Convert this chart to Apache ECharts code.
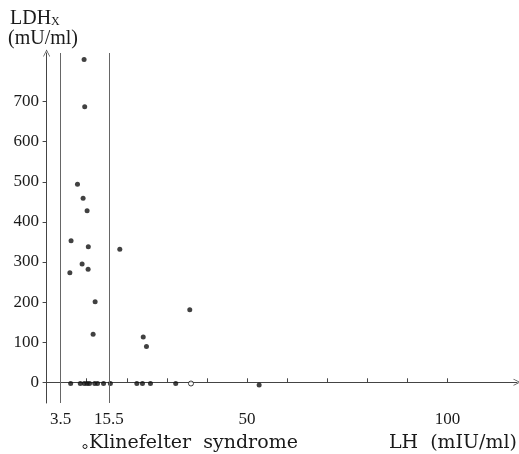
<!DOCTYPE html>
<html>
<head>
<meta charset="utf-8">
<script src="https://cdn.jsdelivr.net/npm/echarts@6/dist/echarts.min.js"></script>
<style>
html,body{margin:0;padding:0;background:#fff;}
#chart{width:519px;height:454px;}
</style>
</head>
<body>
<div id="chart"></div>
<script>
// LH (mIU/ml) and LDHx (mU/ml) for the patients with measurable LDHx
var patientLH  = [9.35, 9.5, 7.7, 9.1, 10.1, 6.1, 10.4, 5.8, 8.85, 10.35, 12.1, 11.6, 18.25, 24.1, 24.9, 35.7];
var patientLDH = [805, 687, 494, 459, 428, 353, 338, 273, 295, 282, 201, 120, 332, 113, 89, 181];
// patients with LDHx ~ 0
var zeroLH  = [6.0, 8.4, 9.4, 10.1, 10.7, 12.0, 12.7, 14.2, 15.9, 22.5, 23.9, 25.9, 32.2, 53.0];
var zeroLDH = [-3, -3, -3, -3, -3, -3, -3, -3, -3, -3, -3, -3, -3, -7];
// Klinefelter syndrome (open circle)
var klineLH  = [36.0];
var klineLDH = [-3];
// reference lines (normal LH range)
var refLines = [3.5, 15.5];
// tick labels
var xTickLabels = [3.5, 15.5, 50, 100];
var xTicks = [10, 20, 30, 40, 50, 60, 70, 80, 90, 100];
var yTicks = [0, 100, 200, 300, 400, 500, 600, 700];

function pairs(xs, ys) { return xs.map(function (x, i) { return [x, ys[i]]; }); }

var serif = '"Liberation Serif", "DejaVu Serif", serif';
var ink = '#1a1a1a';
var arrowPath = 'path://M0,10 L5,0 L10,10 L9,10 L5,2.2 L1,10 Z';

var chart = echarts.init(document.getElementById('chart'), null, {renderer: 'canvas'});
chart.setOption({
  backgroundColor: '#ffffff',
  animation: false,
  grid: {left: 45, top: 53, width: 472, height: 350, containLabel: false},
  xAxis: {
    type: 'value', min: -0.4, max: 117.3,
    splitLine: {show: false},
    axisLine: {show: true, lineStyle: {color: '#444', width: 1}, symbol: ['none', arrowPath], symbolSize: [7, 9]},
    axisTick: {show: true, inside: true, length: 4, lineStyle: {color: '#444'}, customValues: xTicks},
    axisLabel: {show: true, customValues: xTickLabels, formatter: function (v) { return String(v); },
      fontFamily: serif, fontSize: 17, color: ink, margin: 8}
  },
  yAxis: {
    type: 'value', min: -51.6, max: 821.2,
    splitLine: {show: false},
    axisLine: {show: true, lineStyle: {color: '#444', width: 1}, symbol: ['none', arrowPath], symbolSize: [7, 9]},
    axisTick: {show: true, inside: false, length: 4, lineStyle: {color: '#444'}, customValues: yTicks},
    axisLabel: {show: true, customValues: yTicks, fontFamily: serif, fontSize: 17, color: ink, margin: 6}
  },
  series: [
    {
      type: 'scatter', data: pairs(patientLH, patientLDH), symbolSize: 5,
      itemStyle: {color: '#111'},
      markLine: {
        silent: true, symbol: ['none', 'none'], label: {show: false},
        lineStyle: {color: '#666', width: 1, type: 'solid'},
        data: refLines.map(function (v) { return {xAxis: v}; })
      }
    },
    {type: 'scatter', data: pairs(zeroLH, zeroLDH), symbolSize: 5, itemStyle: {color: '#111'}},
    {type: 'scatter', data: pairs(klineLH, klineLDH), symbolSize: 5,
      itemStyle: {color: '#fff', borderColor: '#111', borderWidth: 1}}
  ],
  graphic: [
    {type: 'text', style: {text: 'LDH', x: 10, y: 18.5, font: '20px ' + serif, fill: ink, verticalAlign: 'middle'}},
    {type: 'text', style: {text: 'X', x: 51, y: 22, font: '12px ' + serif, fill: ink, verticalAlign: 'middle'}},
    {type: 'text', style: {text: '(mU/ml)', x: 8, y: 39, font: '20px ' + serif, fill: ink, verticalAlign: 'middle'}},
    {type: 'circle', shape: {cx: 85, cy: 446.5, r: 2}, style: {fill: '#fff', stroke: ink, lineWidth: 1}},
    {type: 'text', style: {text: 'Klinefelter  syndrome', x: 89, y: 443.5, font: '19px "DejaVu Serif", serif', fill: ink, verticalAlign: 'middle'}},
    {type: 'text', style: {text: 'LH  (mIU/ml)', x: 517, y: 443.5, font: '19px "DejaVu Serif", serif', fill: ink, verticalAlign: 'middle', align: 'right'}}
  ]
});
</script>
</body>
</html>
